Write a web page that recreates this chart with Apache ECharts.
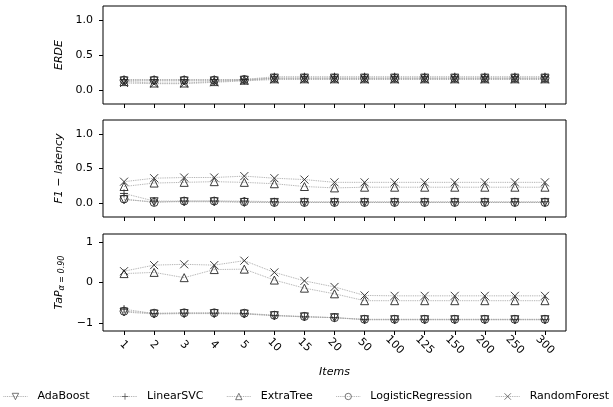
<!DOCTYPE html>
<html>
<head>
<meta charset="utf-8">
<script src="https://cdn.jsdelivr.net/npm/echarts@6/dist/echarts.min.js"></script>
<style>html,body{margin:0;padding:0;background:#fff}#c{width:613px;height:407px}</style>
</head>
<body>
<div id="c"></div>
<script>
const categories = ['1','2','3','4','5','10','15','20','50','100','125','150','200','250','300'];
const seriesNames = ['AdaBoost','LinearSVC','ExtraTree','LogisticRegression','RandomForest'];

// ERDE
const erdeAdaBoost = [0.13,0.13,0.13,0.13,0.14,0.17,0.17,0.17,0.17,0.17,0.17,0.17,0.17,0.17,0.17];
const erdeLinearSVC = [0.15,0.15,0.15,0.15,0.15,0.19,0.19,0.19,0.19,0.19,0.19,0.19,0.19,0.19,0.19];
const erdeExtraTree = [0.12,0.10,0.10,0.12,0.14,0.16,0.16,0.16,0.16,0.16,0.16,0.16,0.16,0.16,0.16];
const erdeLogisticRegression = [0.14,0.14,0.14,0.14,0.15,0.17,0.17,0.17,0.17,0.17,0.17,0.17,0.17,0.17,0.17];
const erdeRandomForest = [0.10,0.09,0.09,0.11,0.13,0.15,0.15,0.15,0.15,0.15,0.15,0.15,0.15,0.15,0.15];

// F1 - latency
const f1AdaBoost = [0.05,0.02,0.02,0.02,0.01,0.01,0.01,0.01,0.01,0.01,0.01,0.01,0.01,0.01,0.01];
const f1LinearSVC = [0.14,0.03,0.03,0.03,0.03,0.02,0.02,0.02,0.02,0.02,0.02,0.02,0.02,0.02,0.02];
const f1ExtraTree = [0.24,0.29,0.30,0.31,0.30,0.28,0.24,0.22,0.23,0.23,0.23,0.23,0.23,0.23,0.23];
const f1LogisticRegression = [0.06,0.01,0.03,0.03,0.02,0.01,0.01,0.01,0.01,0.01,0.01,0.01,0.01,0.01,0.01];
const f1RandomForest = [0.31,0.36,0.37,0.37,0.39,0.36,0.34,0.30,0.30,0.30,0.30,0.30,0.30,0.30,0.30];

// TaP alpha=0.90
const tapAdaBoost = [-0.73,-0.78,-0.77,-0.77,-0.78,-0.82,-0.85,-0.87,-0.92,-0.92,-0.92,-0.92,-0.92,-0.92,-0.92];
const tapLinearSVC = [-0.66,-0.77,-0.76,-0.76,-0.77,-0.82,-0.85,-0.87,-0.92,-0.92,-0.92,-0.92,-0.92,-0.92,-0.92];
const tapExtraTree = [0.22,0.25,0.12,0.32,0.33,0.06,-0.14,-0.28,-0.45,-0.45,-0.45,-0.45,-0.45,-0.45,-0.45];
const tapLogisticRegression = [-0.71,-0.76,-0.75,-0.75,-0.76,-0.81,-0.84,-0.87,-0.91,-0.91,-0.91,-0.91,-0.91,-0.91,-0.91];
const tapRandomForest = [0.28,0.43,0.45,0.43,0.54,0.25,0.04,-0.11,-0.32,-0.33,-0.33,-0.33,-0.33,-0.33,-0.33];

const yTicks12 = [0, 0.5, 1];
const yTicks3 = [-1, 0, 1];

const symbols = {
  AdaBoost: 'path://M0,0L10,0L5,9Z',
  LinearSVC: 'path://M5,0L5,10M0,5L10,5',
  ExtraTree: 'path://M5,0L10,9L0,9Z',
  LogisticRegression: 'circle',
  RandomForest: 'path://M0,0L10,10M10,0L0,10'
};

const panels = [
  [erdeAdaBoost, erdeLinearSVC, erdeExtraTree, erdeLogisticRegression, erdeRandomForest],
  [f1AdaBoost, f1LinearSVC, f1ExtraTree, f1LogisticRegression, f1RandomForest],
  [tapAdaBoost, tapLinearSVC, tapExtraTree, tapLogisticRegression, tapRandomForest]
];

const FONT = 'DejaVu Sans';
const grids = [
  {left: 103, right: 47, top: 6, height: 98},
  {left: 103, right: 47, top: 120, height: 97},
  {left: 103, right: 47, top: 234, height: 97}
].map(g => Object.assign(g, {show: true, borderColor: '#000', borderWidth: 1, backgroundColor: '#fff'}));

const xIdx = categories.map((_, i) => i);
const xAxes = [0,1,2].map(i => ({
  type: 'value', gridIndex: i, min: -0.7, max: 14.7, position: 'bottom',
  axisLine: {show: false, onZero: false},
  splitLine: {show: false},
  axisTick: {show: true, length: 4, lineStyle: {color: '#000', width: 1}, customValues: xIdx},
  axisLabel: {
    show: i === 2, customValues: xIdx, rotate: -45, align: 'center', verticalAlign: 'middle',
    margin: 14, fontFamily: FONT, fontSize: 11, color: '#000',
    formatter: v => categories[Math.round(v)]
  },
  name: i === 2 ? 'Items' : '', nameLocation: 'middle', nameGap: 41,
  nameTextStyle: {fontFamily: FONT, fontSize: 11, fontStyle: 'italic', color: '#000', verticalAlign: 'middle'}
}));

const yNames = ['ERDE', 'F1 − latency', '{a|TaP}{b|α = 0.90}'];
const yAxes = [0,1,2].map(i => {
  const ticks = i === 2 ? yTicks3 : yTicks12;
  return {
    type: 'value', gridIndex: i, position: 'left',
    min: i === 2 ? -1.2 : -0.2, max: 1.2,
    axisLine: {show: false, onZero: false},
    splitLine: {show: false},
    axisTick: {show: true, length: 4, lineStyle: {color: '#000', width: 1}, customValues: ticks},
    axisLabel: {
      customValues: ticks, margin: 10, fontFamily: FONT, fontSize: 11, color: '#000',
      formatter: v => i === 2 ? String(v).replace('-', '−') : v.toFixed(1).replace('-', '−')
    },
    name: yNames[i], nameLocation: 'middle', nameGap: 31,
    nameTextStyle: {
      fontFamily: FONT, fontSize: 11, fontStyle: 'italic', color: '#000',
      rich: {
        a: {fontFamily: FONT, fontSize: 11, fontStyle: 'italic', color: '#000'},
        b: {fontFamily: FONT, fontSize: 8, color: '#000', verticalAlign: 'bottom', padding: [6, 0, 0, 0]}
      }
    }
  };
});

const series = [];
panels.forEach((vals, p) => {
  vals.forEach((arr, k) => {
    const name = seriesNames[k];
    series.push({
      type: 'line', name: name, xAxisIndex: p, yAxisIndex: p,
      data: arr.map((v, i) => [i, v]),
      symbol: symbols[name], symbolSize: 8, showAllSymbol: true,
      lineStyle: {color: '#a0a0a0', width: 0.9, type: 'dotted'},
      itemStyle: {color: 'rgba(0,0,0,0)', borderColor: '#262626', borderWidth: 0.9},
      emphasis: {disabled: true},
      animation: false
    });
  });
});

const chart = echarts.init(document.getElementById('c'), null, {renderer: 'canvas'});
chart.setOption({
  backgroundColor: '#fff',
  animation: false,
  grid: grids,
  xAxis: xAxes,
  yAxis: yAxes,
  legend: {
    data: seriesNames, left: 3, top: 391, padding: 0, width: 610,
    itemWidth: 24, itemHeight: 8, itemGap: 23,
    itemStyle: {color: 'rgba(0,0,0,0)', borderColor: '#555', borderWidth: 0.8},
    lineStyle: {color: '#a0a0a0', width: 0.9, type: 'dotted'},
    textStyle: {fontFamily: FONT, fontSize: 11, color: '#000', padding: [0, 0, 0, 5]}
  },
  series: series
});
</script>
</body>
</html>
